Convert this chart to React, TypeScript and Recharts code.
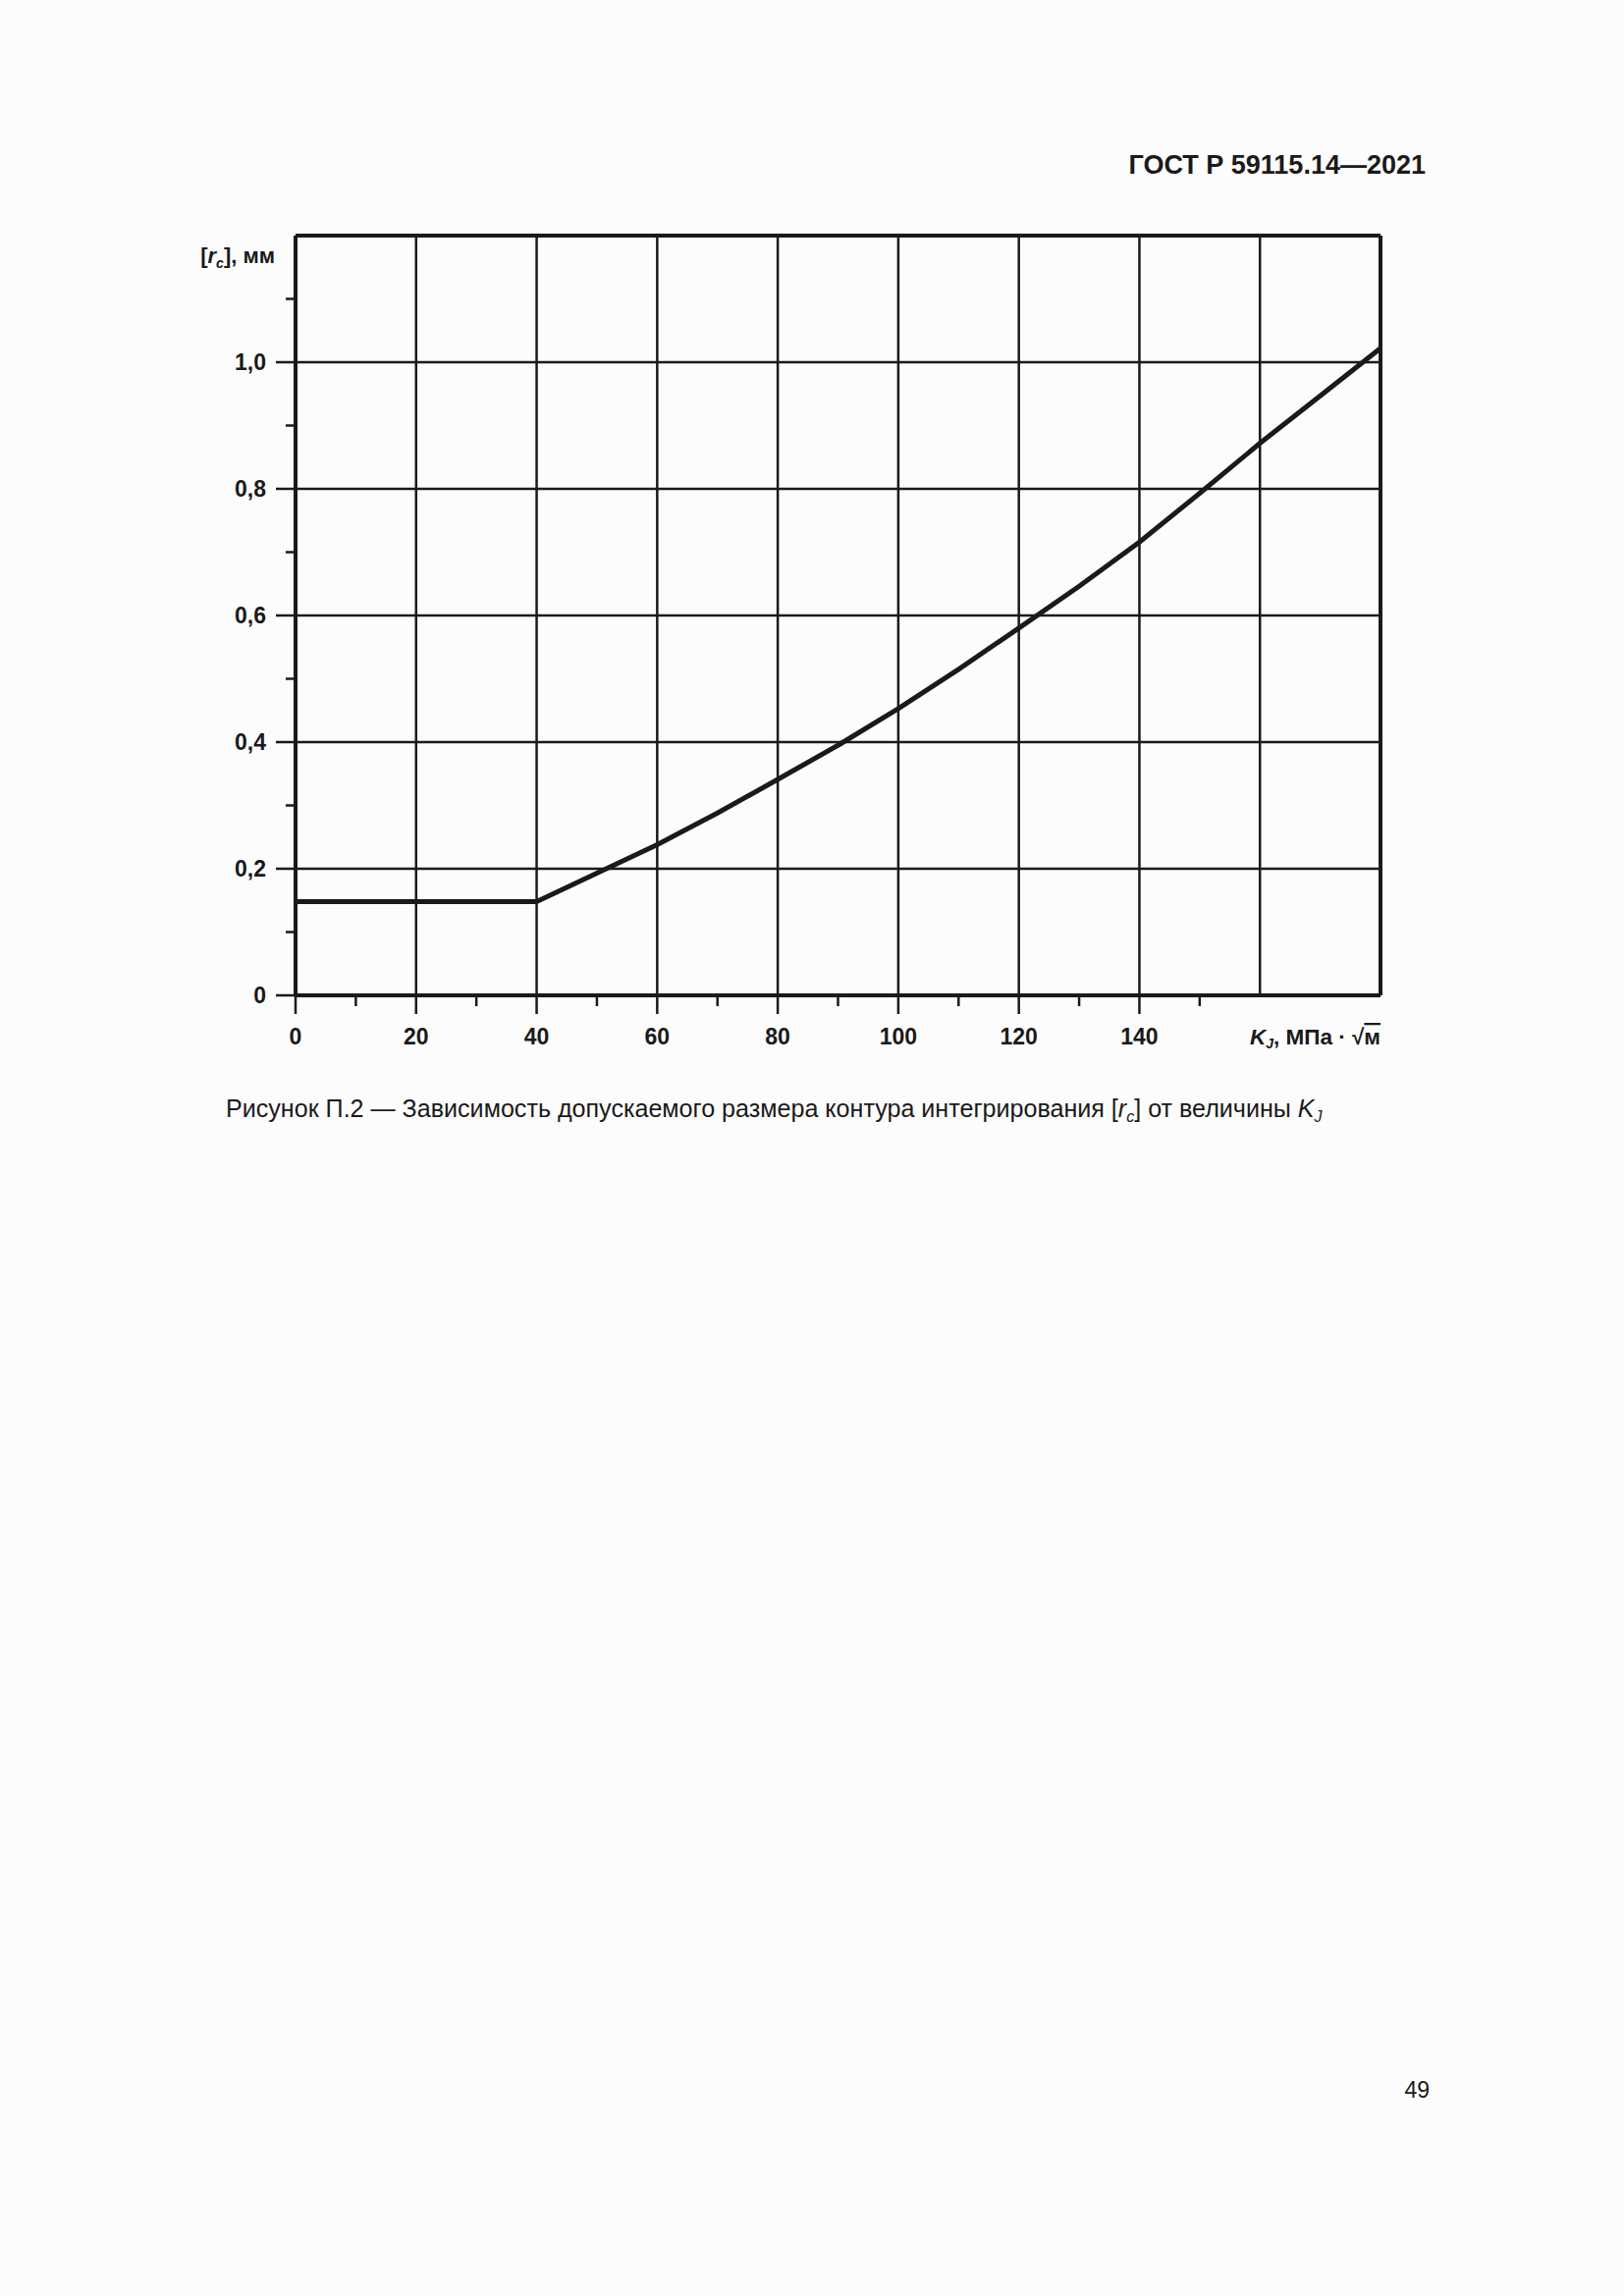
import React from "react";
import { LineChart, Line, XAxis, YAxis, ReferenceLine, Label } from "recharts";

const kValues = [0, 10, 20, 30, 40, 50, 60, 70, 80, 90, 100, 110, 120, 130, 140, 150, 160, 170, 180];
const rValues = [0.148, 0.148, 0.148, 0.148, 0.148, 0.193, 0.238, 0.288, 0.341, 0.395, 0.453, 0.515, 0.58, 0.646, 0.716, 0.793, 0.872, 0.947, 1.022];

const xTicks = [0, 10, 20, 30, 40, 50, 60, 70, 80, 90, 100, 110, 120, 130, 140, 150, 180];
const xMajorLabels = [0, 20, 40, 60, 80, 100, 120, 140];
const xGrid = [20, 40, 60, 80, 100, 120, 140, 160];

const yTicks = [0, 0.1, 0.2, 0.3, 0.4, 0.5, 0.6, 0.7, 0.8, 0.9, 1.0, 1.1];
const yMajorLabels = [0, 0.2, 0.4, 0.6, 0.8, 1.0];
const yGrid = [0.2, 0.4, 0.6, 0.8, 1.0];

const data = kValues.map((k, i) => ({ k, r: rValues[i] }));

const INK = "#1a1a1a";
const FONT = "'Liberation Sans', Arial, sans-serif";

const fmtY = (v: number) => (v === 0 ? "0" : v.toFixed(1).replace(".", ","));
const isMajor = (arr: number[], v: number) => arr.some((a) => Math.abs(a - v) < 1e-9);

const XTick = (props: any) => {
  const { x, y, payload } = props;
  const v = payload.value;
  if (v === 180) {
    return (
      <text x={x} y={y + 50} textAnchor="end" fontFamily={FONT} fontSize={22.5} fontWeight="bold" fill={INK}>
        <tspan fontStyle="italic">K</tspan>
        <tspan fontStyle="italic" fontSize={14} dy={4}>J</tspan>
        <tspan dy={-4}>, МПа · √</tspan>
        <tspan style={{ textDecoration: "overline" }}>м</tspan>
      </text>
    );
  }
  const major = isMajor(xMajorLabels, v);
  return (
    <g>
      <line x1={x} x2={x} y1={y} y2={y + (major ? 19 : 11)} stroke={INK} strokeWidth={2.5} />
      {major && (
        <text x={x} y={y + 50} textAnchor="middle" fontFamily={FONT} fontSize={23} fontWeight="bold" fill={INK}>
          {String(v)}
        </text>
      )}
    </g>
  );
};

const YTick = (props: any) => {
  const { x, y, payload } = props;
  const v = payload.value;
  const major = isMajor(yMajorLabels, v);
  return (
    <g>
      <line x1={x - (major ? 20 : 10)} x2={x} y1={y} y2={y} stroke={INK} strokeWidth={2.5} />
      {major && (
        <text x={x - 30} y={y} dy="0.36em" textAnchor="end" fontFamily={FONT} fontSize={23} fontWeight="bold" fill={INK}>
          {fmtY(v)}
        </text>
      )}
    </g>
  );
};

const YTitle = (props: any) => {
  const vb = props.viewBox || { x: 0, y: 240, width: 301 };
  return (
    <text x={vb.x + vb.width - 21} y={vb.y + 28} textAnchor="end" fontFamily={FONT} fontSize={22} fontWeight="bold" fill={INK}>
      <tspan>[</tspan>
      <tspan fontStyle="italic">r</tspan>
      <tspan fontStyle="italic" fontSize={14} dy={5}>c</tspan>
      <tspan dy={-5}>], мм</tspan>
    </text>
  );
};

export default function App() {
  return (
    <div style={{ position: "absolute", left: 0, top: 0, width: 1654, height: 2339, background: "#fcfcfc" }}>
      <svg width={1654} height={2339} style={{ position: "absolute", left: 0, top: 0 }}>
        <text x={1452} y={177} textAnchor="end" fontFamily={FONT} fontSize={27} fontWeight="bold" fill={INK}>
          ГОСТ Р 59115.14—2021
        </text>
        <text x={230} y={1138} fontFamily={FONT} fontSize={25.1} fill={INK}>
          <tspan>Рисунок П.2 — Зависимость допускаемого размера контура интегрирования [</tspan>
          <tspan fontStyle="italic">r</tspan>
          <tspan fontStyle="italic" fontSize={16} dy={5}>c</tspan>
          <tspan dy={-5}>] от величины </tspan>
          <tspan fontStyle="italic">K</tspan>
          <tspan fontStyle="italic" fontSize={16} dy={5}>J</tspan>
        </text>
        <text x={1456} y={2137} textAnchor="end" fontFamily={FONT} fontSize={23} fill={INK}>
          49
        </text>
      </svg>
      <div style={{ position: "absolute", left: 0, top: 0 }}>
        <LineChart width={1654} height={1100} data={data} margin={{ top: 240, right: 248, bottom: 0, left: 0 }}>
          <XAxis
            dataKey="k"
            type="number"
            domain={[0, 180]}
            ticks={xTicks}
            interval={0}
            tickSize={0}
            tickMargin={0}
            tickLine={false}
            height={86}
            axisLine={{ stroke: INK, strokeWidth: 4 }}
            tick={<XTick />}
            allowDataOverflow
          />
          <YAxis
            type="number"
            domain={[0, 1.2]}
            ticks={yTicks}
            interval={0}
            tickSize={0}
            tickMargin={0}
            tickLine={false}
            width={301}
            axisLine={{ stroke: INK, strokeWidth: 4 }}
            tick={<YTick />}
            allowDataOverflow
          >
            <Label content={<YTitle />} />
          </YAxis>
          {xGrid.map((v) => (
            <ReferenceLine key={"gx" + v} x={v} stroke={INK} strokeWidth={2.5} />
          ))}
          {yGrid.map((v) => (
            <ReferenceLine key={"gy" + v} y={v} stroke={INK} strokeWidth={2.5} />
          ))}
          <ReferenceLine x={180} stroke={INK} strokeWidth={4} />
          <ReferenceLine y={1.2} stroke={INK} strokeWidth={4} />
          <Line
            type="linear"
            dataKey="r"
            stroke={INK}
            strokeWidth={5}
            dot={false}
            activeDot={false}
            isAnimationActive={false}
          />
        </LineChart>
      </div>
    </div>
  );
}
